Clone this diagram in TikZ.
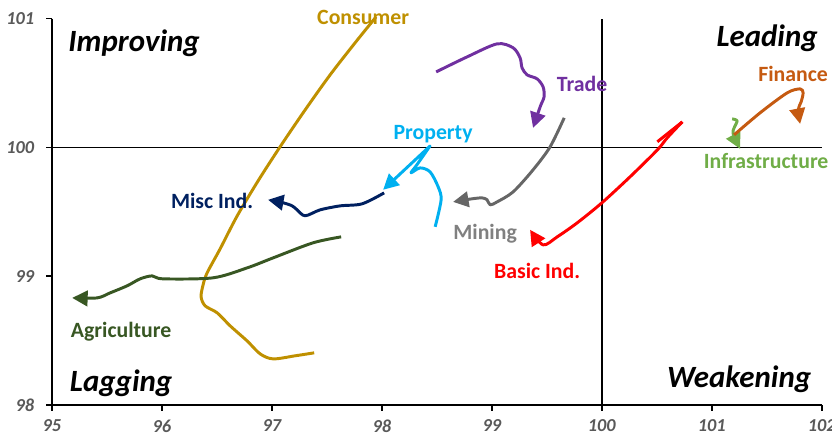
\documentclass[tikz,border=0pt]{standalone}
\usepackage{fontspec}
\setmainfont{Carlito}
\usetikzlibrary{arrows.meta}
\definecolor{consumer}{RGB}{191,144,0}
\definecolor{agri}{RGB}{56,87,35}
\definecolor{misc}{RGB}{0,32,96}
\definecolor{property}{RGB}{0,176,240}
\definecolor{trade}{RGB}{112,48,160}
\definecolor{mining}{RGB}{102,102,102}
\definecolor{mininglbl}{RGB}{128,128,128}
\definecolor{basic}{RGB}{255,0,0}
\definecolor{finance}{RGB}{197,90,17}
\definecolor{infra}{RGB}{112,173,71}
\definecolor{tickgray}{RGB}{89,89,89}
\tikzset{
  series/.style={line width=2.1pt,line join=round},
  sector/.style={anchor=base,font=\fontsize{15.5}{18}\selectfont\bfseries},
  quadrant/.style={anchor=base,font=\fontsize{22}{26}\selectfont\bfseries\itshape},
  ticklbl/.style={text=tickgray,font=\fontsize{13}{15}\selectfont\bfseries\itshape}
}
\begin{document}
\begin{tikzpicture}[x=2.75cm,y=3.2175cm,>={Triangle[length=11pt,width=11pt]}]
        \useasboundingbox (94.530,97.759) rectangle (102.094,101.147);
        % axes and the two 100 lines
        \draw[line width=1pt] (95,101)--(95,98)--(102,98);
        \draw[line width=1pt] (95,100)--(102,100);
        \draw[line width=1pt] (100,98)--(100,101);
        % ticks
        \draw[line width=1pt] (95,98)--(94.945,98) node[ticklbl,left=4.5pt] (y98) {98};
        \draw[line width=1pt] (95,99)--(94.945,99) node[ticklbl,left=4.5pt] (y99) {99};
        \draw[line width=1pt] (95,100)--(94.945,100) node[ticklbl,left=4.5pt] (y100) {100};
        \draw[line width=1pt] (95,101)--(94.945,101) node[ticklbl,left=4.5pt] (y101) {101};
        \draw[line width=1pt] (95,98)--(95,97.953) node[ticklbl,below=2.5pt] (x95) {95};
        \draw[line width=1pt] (96,98)--(96,97.953) node[ticklbl,below=2.5pt] (x96) {96};
        \draw[line width=1pt] (97,98)--(97,97.953) node[ticklbl,below=2.5pt] (x97) {97};
        \draw[line width=1pt] (98,98)--(98,97.953) node[ticklbl,below=2.5pt] (x98) {98};
        \draw[line width=1pt] (99,98)--(99,97.953) node[ticklbl,below=2.5pt] (x99) {99};
        \draw[line width=1pt] (100,98)--(100,97.953) node[ticklbl,below=2.5pt] (x100) {100};
        \draw[line width=1pt] (101,98)--(101,97.953) node[ticklbl,below=2.5pt] (x101) {101};
        \draw[line width=1pt] (102,98)--(102,97.953) node[ticklbl,below=2.5pt] (x102) {102};
        % quadrants
        \node[quadrant] (improving) at (95.748,100.743) {Improving};
        \node[quadrant] (leading) at (101.503,100.784) {Leading};
        \node[quadrant] (lagging) at (95.630,98.101) {Lagging};
        \node[quadrant] (weakening) at (101.248,98.134) {Weakening};
        % tails
        \draw[series,consumer] plot[smooth] coordinates {(97.385,98.404) (97.212,98.381) (97.012,98.357) (96.894,98.396) (96.775,98.497) (96.621,98.614) (96.503,98.715) (96.394,98.769) (96.357,98.839) (96.375,98.932) (96.412,99.026) (96.530,99.212) (96.685,99.468) (96.875,99.740) (97.075,100.005) (97.303,100.292) (97.530,100.564) (97.757,100.813) (97.948,101.015)};
        \draw[series,agri,->] plot[smooth] coordinates {(97.630,99.305) (97.375,99.259) (97.012,99.142) (96.775,99.064) (96.466,98.987) (96.012,98.979) (95.912,99.002) (95.803,98.979) (95.685,98.925) (95.530,98.870) (95.412,98.831) (95.185,98.831)};
        \draw[series,misc,->] plot[smooth] coordinates {(98.021,99.647) (97.821,99.562) (97.621,99.546) (97.439,99.515) (97.303,99.469) (97.230,99.515) (97.185,99.546) (97.103,99.570) (96.966,99.593)};
        \draw[series,property,->] plot[smooth] coordinates {(98.485,99.383) (98.539,99.593) (98.512,99.694) (98.439,99.810) (98.348,99.841) (98.266,99.803) (98.312,99.857) (98.439,100.012)}--(98.012,99.671);
        \draw[series,trade,->] plot[smooth] coordinates {(98.494,100.587) (98.776,100.704) (99.048,100.805) (99.194,100.774) (99.257,100.696) (99.275,100.618) (99.321,100.564) (99.412,100.533) (99.466,100.471) (99.475,100.393) (99.439,100.315) (99.375,100.152)};
        \draw[series,mining,->] plot[smooth] coordinates {(99.658,100.230) (99.530,100.005) (99.375,99.826) (99.194,99.655) (99.048,99.577) (98.985,99.554) (98.957,99.593) (98.912,99.608) (98.821,99.601) (98.648,99.577)};
        \draw[series,basic] (100.505,100.044)--(100.732,100.199);
        \draw[series,basic,->] plot[smooth] coordinates {(100.732,100.199) (100.595,100.075) (100.505,99.981) (100.257,99.772) (100.001,99.570) (99.776,99.414) (99.594,99.305) (99.466,99.243) (99.348,99.360)};
        \draw[series,infra,->] plot[smooth] coordinates {(101.185,100.222) (101.230,100.207) (101.203,100.152) (101.194,100.106) (101.257,99.989)};
        \draw[series,finance,->] plot[smooth] coordinates {(101.203,100.098) (101.439,100.269) (101.685,100.424) (101.803,100.455) (101.830,100.424) (101.812,100.354) (101.785,100.292) (101.803,100.183)};
        % sector names
        \node[sector,text=consumer] (consumerlbl) at (97.830,100.953) {Consumer};
        \node[sector,text=trade] (tradelbl) at (99.821,100.434) {Trade};
        \node[sector,text=property] (propertylbl) at (98.466,100.059) {Property};
        \node[sector,text=misc] (misclbl) at (96.457,99.528) {Misc Ind.};
        \node[sector,text=mininglbl] (mininglbl) at (98.939,99.282) {Mining};
        \node[sector,text=basic] (basiclbl) at (99.412,98.981) {Basic Ind.};
        \node[sector,text=agri] (agrilbl) at (95.630,98.523) {Agriculture};
        \node[sector,text=finance] (financelbl) at (101.739,100.512) {Finance};
        \node[sector,text=infra] (infralbl) at (101.494,99.834) {Infrastructure};
    \end{tikzpicture}
\end{document}
